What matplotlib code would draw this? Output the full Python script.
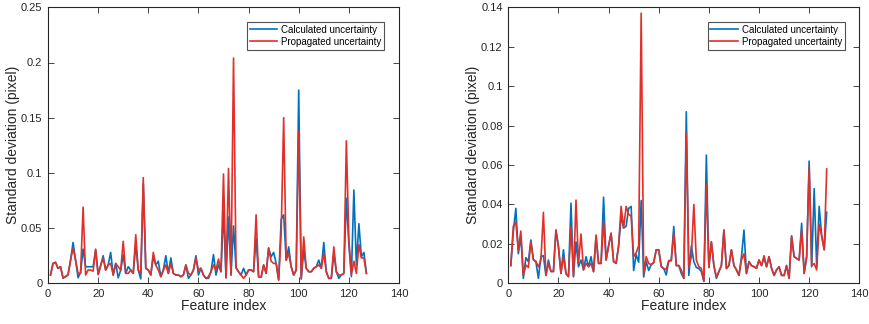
import numpy as np
import matplotlib
matplotlib.use("Agg")
import matplotlib.pyplot as plt

plt.rcParams["font.family"] = ["Liberation Sans", "DejaVu Sans"]

# feature index 1..127 for both panels
feature_idx = np.arange(1, 128)

# left panel
left_calc = [
	0.0075, 0.018, 0.019, 0.0135, 0.015, 0.0045, 0.006, 0.0075, 0.021, 0.037,
	0.021, 0.005, 0.010, 0.031, 0.015, 0.015, 0.015, 0.015, 0.030, 0.008,
	0.016, 0.025, 0.012, 0.0166, 0.028, 0.0075, 0.018, 0.005, 0.012, 0.0256,
	0.009, 0.015, 0.012, 0.009, 0.035, 0.012, 0.004, 0.090, 0.0135, 0.012,
	0.0075, 0.024, 0.0166, 0.020, 0.006, 0.012, 0.025, 0.009, 0.023, 0.009,
	0.0075, 0.0075, 0.006, 0.0075, 0.0166, 0.0045, 0.0075, 0.012, 0.025, 0.0075,
	0.0136, 0.0075, 0.0045, 0.0045, 0.0105, 0.026, 0.0075, 0.0166, 0.0105, 0.066,
	0.005, 0.060, 0.0075, 0.052, 0.014, 0.0105, 0.0075, 0.0136, 0.0075, 0.012,
	0.012, 0.0105, 0.041, 0.006, 0.0055, 0.0166, 0.009, 0.032, 0.024, 0.028,
	0.018, 0.003, 0.058, 0.062, 0.021, 0.033, 0.015, 0.0075, 0.012, 0.175,
	0.004, 0.030, 0.0136, 0.0105, 0.0105, 0.0136, 0.015, 0.021, 0.0136, 0.037,
	0.0105, 0.0045, 0.0045, 0.027, 0.0105, 0.0045, 0.0075, 0.009, 0.077, 0.035,
	0.006, 0.0845, 0.0166, 0.054, 0.024, 0.028, 0.009,
]
left_prop = [
	0.0075, 0.018, 0.019, 0.0135, 0.015, 0.005, 0.006, 0.008, 0.021, 0.032,
	0.021, 0.009, 0.009, 0.069, 0.0075, 0.012, 0.012, 0.011, 0.031, 0.008,
	0.016, 0.023, 0.012, 0.0166, 0.018, 0.0075, 0.018, 0.015, 0.012, 0.038,
	0.009, 0.009, 0.012, 0.009, 0.044, 0.012, 0.009, 0.0957, 0.0135, 0.012,
	0.0075, 0.028, 0.0166, 0.012, 0.006, 0.012, 0.0166, 0.009, 0.018, 0.009,
	0.0075, 0.0075, 0.006, 0.0075, 0.0166, 0.009, 0.0075, 0.012, 0.023, 0.012,
	0.0136, 0.0075, 0.0045, 0.006, 0.0105, 0.0166, 0.012, 0.022, 0.0105, 0.099,
	0.005, 0.104, 0.0075, 0.204, 0.014, 0.0105, 0.0075, 0.0045, 0.0075, 0.012,
	0.012, 0.0105, 0.062, 0.006, 0.0055, 0.0166, 0.009, 0.032, 0.020, 0.018,
	0.018, 0.003, 0.045, 0.150, 0.021, 0.027, 0.015, 0.0075, 0.012, 0.138,
	0.004, 0.042, 0.0136, 0.0105, 0.0105, 0.0136, 0.015, 0.0166, 0.0136, 0.027,
	0.0105, 0.0045, 0.0045, 0.033, 0.0105, 0.0075, 0.0075, 0.009, 0.129, 0.040,
	0.008, 0.020, 0.009, 0.035, 0.023, 0.023, 0.009,
]

# right panel
right_calc = [
	0.009, 0.026, 0.038, 0.015, 0.024, 0.0025, 0.013, 0.011, 0.022, 0.012,
	0.011, 0.0025, 0.0135, 0.014, 0.004, 0.0118, 0.006, 0.006, 0.027, 0.019,
	0.005, 0.017, 0.005, 0.0034, 0.0406, 0.0034, 0.021, 0.0084, 0.0118, 0.0068,
	0.0135, 0.0084, 0.0135, 0.0059, 0.0235, 0.0101, 0.0101, 0.0437, 0.0118, 0.019,
	0.0254, 0.011, 0.0101, 0.019, 0.034, 0.028, 0.029, 0.038, 0.039, 0.0065,
	0.0145, 0.0107, 0.042, 0.0032, 0.011, 0.0065, 0.0095, 0.0105, 0.017, 0.017,
	0.0085, 0.0075, 0.0042, 0.0115, 0.0115, 0.0288, 0.009, 0.009, 0.005, 0.0025,
	0.087, 0.004, 0.019, 0.011, 0.008, 0.0075, 0.006, 0.001, 0.065, 0.008,
	0.021, 0.009, 0.0025, 0.006, 0.009, 0.027, 0.0075, 0.009, 0.017, 0.009,
	0.0068, 0.004, 0.0135, 0.027, 0.005, 0.011, 0.009, 0.0084, 0.0076, 0.0118,
	0.009, 0.013, 0.0084, 0.0135, 0.0076, 0.004, 0.0068, 0.0084, 0.004, 0.004,
	0.009, 0.0025, 0.024, 0.0135, 0.0126, 0.0118, 0.0304, 0.005, 0.0135, 0.062,
	0.0084, 0.048, 0.0084, 0.039, 0.024, 0.017, 0.036,
]
right_prop = [
	0.009, 0.029, 0.031, 0.0169, 0.0265, 0.004, 0.0093, 0.008, 0.021, 0.012,
	0.011, 0.0084, 0.0118, 0.036, 0.004, 0.0101, 0.006, 0.006, 0.027, 0.018,
	0.005, 0.0135, 0.005, 0.0034, 0.0287, 0.0034, 0.0422, 0.0101, 0.025, 0.0068,
	0.0101, 0.0084, 0.0101, 0.0059, 0.0245, 0.0101, 0.0101, 0.0315, 0.0118, 0.019,
	0.0254, 0.011, 0.0101, 0.019, 0.039, 0.028, 0.039, 0.035, 0.034, 0.0135,
	0.0155, 0.019, 0.137, 0.005, 0.0135, 0.010, 0.0095, 0.0105, 0.017, 0.017,
	0.0085, 0.0075, 0.007, 0.0115, 0.0115, 0.0255, 0.009, 0.009, 0.0068, 0.0025,
	0.076, 0.008, 0.0135, 0.040, 0.0118, 0.0084, 0.0076, 0.001, 0.050, 0.008,
	0.021, 0.009, 0.003, 0.006, 0.009, 0.027, 0.0075, 0.009, 0.017, 0.009,
	0.0068, 0.004, 0.0118, 0.015, 0.005, 0.011, 0.009, 0.0084, 0.0076, 0.0118,
	0.009, 0.014, 0.0084, 0.0135, 0.0076, 0.004, 0.0068, 0.0084, 0.004, 0.004,
	0.009, 0.0025, 0.024, 0.0135, 0.0126, 0.0118, 0.027, 0.005, 0.0135, 0.059,
	0.009, 0.010, 0.0068, 0.030, 0.024, 0.017, 0.058,
]

labels = ["Calculated uncertainty", "Propagated uncertainty"]
c_blue = "#0072BD"
c_red = "#E0302A"

W, H = 869, 324
fig = plt.figure(figsize=(W/100, H/100), dpi=100)

panels = [
	(48, left_calc, left_prop, 0.25, np.arange(0, 0.251, 0.05), ["0", "0.05", "0.1", "0.15", "0.2", "0.25"]),
	(508.3, right_calc, right_prop, 0.14, np.arange(0, 0.141, 0.02), ["0", "0.02", "0.04", "0.06", "0.08", "0.1", "0.12", "0.14"]),
]

for x0, calc, prop, ymax, yt, ytl in panels:
	ax = fig.add_axes([x0/W, 1-283.3/H, 351/W, 276/H])
	ax.plot(feature_idx, calc, color=c_blue, lw=1.2, label=labels[0])
	ax.plot(feature_idx, prop, color=c_red, lw=1.2, label=labels[1])
	ax.set_xlim(0, 140)
	ax.set_ylim(0, ymax)
	ax.set_xticks(np.arange(0, 141, 20))
	ax.set_yticks(yt)
	ax.set_yticklabels(ytl)
	ax.tick_params(direction="in", length=4, width=0.6, labelsize=8,
		top=True, right=True, colors="#262626", pad=4)
	for sp in ax.spines.values():
		sp.set_linewidth(0.8)
		sp.set_color("#262626")
	ax.set_xlabel("Feature index", fontsize=10, labelpad=0, color="#262626")
	ax.set_ylabel("Standard deviation (pixel)", fontsize=10, labelpad=1, color="#262626")
	leg = ax.legend(loc="upper right", fontsize=7, frameon=True, fancybox=False,
		edgecolor="#262626", handlelength=2.8, borderpad=0.3, labelspacing=0.2,
		handletextpad=0.4, borderaxespad=1.5)
	leg.get_frame().set_linewidth(0.8)

fig.savefig("out.png", dpi=100)
